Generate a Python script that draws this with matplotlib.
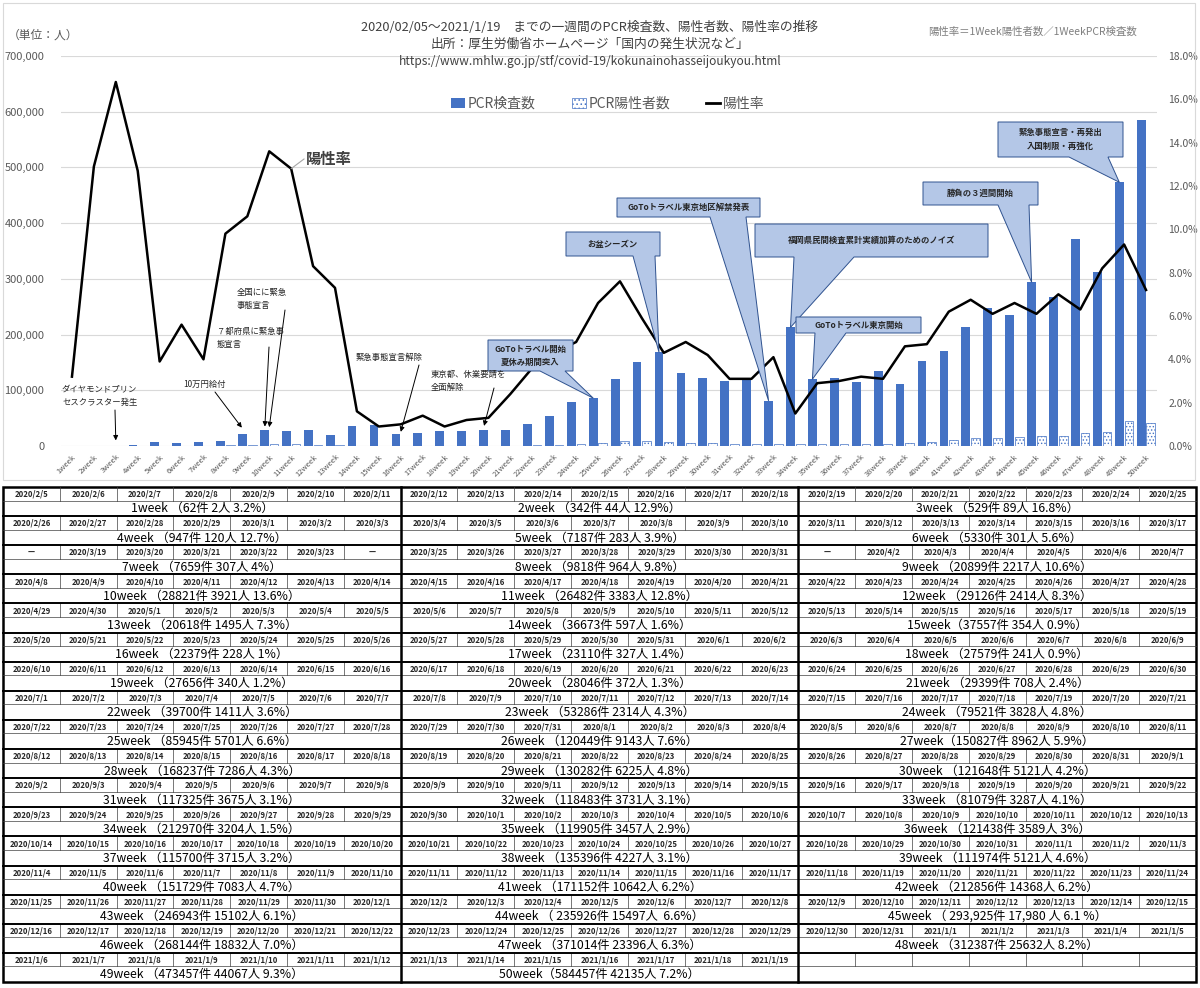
import datetime
import matplotlib
matplotlib.use('Agg')
import matplotlib.pyplot as plt
from matplotlib.patches import Polygon, Patch, Rectangle
from matplotlib.lines import Line2D

plt.rcParams['font.family'] = ['Noto Sans CJK JP', 'DejaVu Sans']
plt.rcParams['hatch.linewidth'] = 0.6

W, H = 1200, 988

weeks = [f'{i}week' for i in range(1, 51)]

tests = [62, 342, 529, 947, 7187, 5330, 7659, 9818, 20899, 28821,
         26482, 29126, 20618, 36673, 37557, 22379, 23110, 27579, 27656, 28046,
         29399, 39700, 53286, 79521, 85945, 120449, 150827, 168237, 130282, 121648,
         117325, 118483, 81079, 212970, 119905, 121438, 115700, 135396, 111974, 151729,
         171152, 212856, 246943, 235926, 293925, 268144, 371014, 312387, 473457, 584457]

positives = [2, 44, 89, 120, 283, 301, 307, 964, 2217, 3921,
             3383, 2414, 1495, 597, 354, 228, 327, 241, 340, 372,
             708, 1411, 2314, 3828, 5701, 9143, 8962, 7286, 6225, 5121,
             3675, 3731, 3287, 3204, 3457, 3589, 3715, 4227, 5121, 7083,
             10642, 14368, 15102, 15497, 17980, 18832, 23396, 25632, 44067, 42135]

# positivity rate (%) as drawn by the line
rate = [3.2, 12.9, 16.8, 12.7, 3.9, 5.6, 4.0, 9.8, 10.6, 13.6,
        12.8, 8.3, 7.3, 1.6, 0.9, 1.0, 1.4, 0.9, 1.2, 1.3,
        2.4, 3.6, 4.3, 4.8, 6.6, 7.6, 5.9, 4.3, 4.8, 4.2,
        3.1, 3.1, 4.1, 1.5, 2.9, 3.0, 3.2, 3.1, 4.6, 4.7,
        6.2, 6.75, 6.1, 6.6, 6.1, 7.0, 6.3, 8.2, 9.3, 7.2]

# rate text as written in the table
rate_label = ['3.2%', '12.9%', '16.8%', '12.7%', '3.9%', '5.6%', '4%', '9.8%', '10.6%', '13.6%',
              '12.8%', '8.3%', '7.3%', '1.6%', '0.9%', '1%', '1.4%', '0.9%', '1.2%', '1.3%',
              '2.4%', '3.6%', '4.3%', '4.8%', '6.6%', '7.6%', '5.9%', '4.3%', '4.8%', '4.2%',
              '3.1%', '3.1%', '4.1%', '1.5%', '2.9%', '3%', '3.2%', '3.1%', '4.6%', '4.7%',
              '6.2%', '6.2%', '6.1%', '6.6%', '6.1%', '7.0%', '6.3%', '8.2%', '9.3%', '7.2%']

start_day = datetime.date(2020, 2, 5)
missing_days = ['2020/3/18', '2020/3/24', '2020/4/1']

dates = []
for i in range(350):
    d = start_day + datetime.timedelta(days=i)
    s = f'{d.year}/{d.month}/{d.day}'
    dates.append('—' if s in missing_days else s)

summary = [f'{w} （{t}件 {p}人 {r}）' for w, t, p, r in zip(weeks, tests, positives, rate_label)]
for i in (14, 26, 49):
    summary[i] = summary[i].replace(' （', '（')
summary[43] = '44week （ 235926件 15497人  6.6%）'
summary[44] = '45week （ 293,925件 17,980 人 6.1 %）'

BLUE = '#4472C4'
GREY = '#595959'

fig = plt.figure(figsize=(W / 100, H / 100), dpi=100)

# ---- chart
ax = fig.add_axes([61 / W, 1 - 446 / H, 1096 / W, 390 / H])
x = list(range(50))
ax.bar([i - 0.22 for i in x], tests, width=0.4, color=BLUE, zorder=2)
ax.bar([i + 0.22 for i in x], positives, width=0.4, facecolor='white',
       edgecolor=BLUE, hatch='.....', linewidth=0.5, zorder=2)
ax.set_xlim(-0.5, 49.5)
ax.set_ylim(0, 700000)
ax.set_yticks(range(0, 700001, 100000))
ax.set_yticklabels([f'{v:,}' for v in range(0, 700001, 100000)])
ax.grid(axis='y', color='#d9d9d9', linewidth=0.8)
ax.set_axisbelow(True)
for s in ax.spines.values():
    s.set_visible(False)
ax.tick_params(axis='y', length=0, labelsize=8, labelcolor=GREY, pad=12)
ax.set_xticks(x)
ax.set_xticklabels(weeks, rotation=45, ha='right', va='top', rotation_mode='anchor',
                   fontsize=5.5, color=GREY)
ax.tick_params(axis='x', length=0, pad=5)

ax2 = ax.twinx()
ax2.plot(x, rate, color='black', linewidth=1.8, zorder=3)
ax2.set_ylim(0, 18)
ax2.set_yticks(range(0, 19, 2))
ax2.set_yticklabels([f'{v:.1f}%' for v in range(0, 19, 2)])
ax2.tick_params(axis='y', length=0, labelsize=7.5, labelcolor=GREY, pad=8)
for s in ax2.spines.values():
    s.set_visible(False)

handles = [Patch(facecolor=BLUE),
           Patch(facecolor='white', edgecolor=BLUE, hatch='....', linewidth=0.5),
           Line2D([], [], color='black', linewidth=2)]
leg = ax.legend(handles, ['PCR検査数', 'PCR陽性者数', '陽性率'], loc='center',
                bbox_to_anchor=(608 / W, 1 - 104 / H), bbox_transform=fig.transFigure,
                ncol=3, frameon=False, fontsize=10, columnspacing=2.6,
                handlelength=1.0, handletextpad=0.2)
for t in leg.get_texts():
    t.set_color(GREY)

# ---- overlay in pixel coordinates
ov = fig.add_axes([0, 0, 1, 1], zorder=5)
ov.set_xlim(0, W)
ov.set_ylim(H, 0)
ov.axis('off')


def data_px(axis, xv, yv):
    dx, dy = axis.transData.transform((xv, yv))
    return dx, H - dy


ov.add_patch(Rectangle((3, 3), 1192, 477, fill=False, ec='#d9d9d9', lw=0.8))

ov.text(590, 27, '2020/02/05～2021/1/19　までの一週間のPCR検査数、陽性者数、陽性率の推移',
        ha='center', va='center', fontsize=9.2, color='#404040')
ov.text(590, 44, '出所：厚生労働省ホームページ「国内の発生状況など」',
        ha='center', va='center', fontsize=9.2, color='#404040')
ov.text(590, 61, 'https://www.mhlw.go.jp/stf/covid-19/kokunainohasseijoukyou.html',
        ha='center', va='center', fontsize=8.6, color='#404040')
ov.text(8, 35, '（単位：人）', va='center', fontsize=8.5, color=GREY)
ov.text(1137, 32, '陽性率＝1Week陽性者数／1WeekPCR検査数', ha='right', va='center',
        fontsize=7.5, color='#7f7f7f')

# label on the rate line
lx, ly = data_px(ax2, 10, rate[10])
ov.plot([lx, 304], [ly, 159], color='#a6a6a6', lw=0.8)
ov.text(306, 159, '陽性率', va='center', fontsize=11, fontweight='bold', color='#404040')

# arrow notes
arrow_kw = dict(arrowstyle='-|>', color='black', lw=0.7, mutation_scale=7, shrinkA=0, shrinkB=0)
notes = [
    ('ダイヤモンドプリン\nセスクラスター発生', (62, 385), (115, 410), (2, 10000)),
    ('10万円給付', (183, 380), (215, 392), (7.75, tests[8] + 12000)),
    ('全国にに緊急\n事態宣言', (237, 288), (285, 310), (9.0, tests[9] + 5000)),
    ('７都府県に緊急事\n態宣言', (217, 327), (269, 347), (8.8, tests[9] + 6000)),
    ('緊急事態宣言解除', (356, 353), (419, 365), (15, tests[15] + 3000)),
    ('東京都、休業要請を\n全面解除', (431, 370), (494, 388), (18.8, tests[19] + 8000)),
]
for txt, (tx, ty), start, (wx, wy) in notes:
    ov.text(tx, ty, txt, ha='left', va='top', fontsize=6, color='#262626', linespacing=1.5)
    ov.annotate('', xy=data_px(ax, wx, wy), xytext=start, arrowprops=arrow_kw)


def callout(x0, y0, x1, y1, b0, b1, week, text):
    tx, ty = data_px(ax, week - 1 - 0.22, tests[week - 1])
    pts = [(x0, y0), (x1, y0), (x1, y1), (b1, y1), (tx, ty), (b0, y1), (x0, y1)]
    ov.add_patch(Polygon(pts, closed=True, fc='#B4C7E7', ec='#2F528F', lw=0.7))
    ov.text((x0 + x1) / 2, (y0 + y1) / 2, text, ha='center', va='center', fontsize=6,
            fontweight='bold', color='#262626', linespacing=1.6)


callout(488, 340, 573, 371, 540, 565, 25, 'GoToトラベル開始\n夏休み期間突入')
callout(566, 232, 660, 256, 633, 655, 28, 'お盆シーズン')
callout(617, 198, 760, 217, 710, 746, 33, 'GoToトラベル東京地区解禁発表')
callout(755, 224, 988, 257, 794, 854, 34, '福岡県民間検査累計実績加算のためのノイズ')
callout(796, 317, 921, 333, 815, 846, 35, 'GoToトラベル東京開始')
callout(923, 182, 1038, 205, 998, 1029, 45, '勝負の３週間開始')
callout(998, 122, 1123, 157, 1069, 1108, 49, '緊急事態宣言・再発出\n入国制限・再強化')

# ---- table of weeks
T_LEFT, T_RIGHT, T_TOP, T_BOTTOM = 3, 1196, 487, 982
n_rows = 17
blk = (T_BOTTOM - T_TOP) / n_rows
col_w = (T_RIGHT - T_LEFT) / 3
cell_w = col_w / 7
date_h = 13.5
thin = dict(color='#404040', lw=0.5)
thick = dict(color='black', lw=1.4)

for r in range(n_rows):
    ytop = T_TOP + r * blk
    ymid = ytop + date_h
    for c in range(3):
        wi = 3 * r + c
        xl = T_LEFT + c * col_w
        for k in range(7):
            xk = xl + k * cell_w
            if k > 0:
                ov.plot([xk, xk], [ytop, ymid], **thin)
            if wi < 50:
                ov.text(xk + cell_w / 2, ytop + date_h / 2 + 0.5, dates[wi * 7 + k],
                        ha='center', va='center', fontsize=5.6, fontweight='bold',
                        color='#262626')
        if wi < 50:
            ov.text(xl + col_w / 2, ymid + (blk - date_h) / 2 + 0.5, summary[wi],
                    ha='center', va='center', fontsize=8.8, color='black')
    ov.plot([T_LEFT, T_RIGHT], [ymid, ymid], **thin)
    if r > 0:
        ov.plot([T_LEFT, T_RIGHT], [ytop, ytop], **thick)

for c in (1, 2):
    xc = T_LEFT + c * col_w
    ov.plot([xc, xc], [T_TOP, T_BOTTOM], color='black', lw=1.8)
ov.add_patch(Rectangle((T_LEFT, T_TOP), T_RIGHT - T_LEFT, T_BOTTOM - T_TOP,
                       fill=False, ec='black', lw=1.8))

fig.savefig('out.png', dpi=100, facecolor='white')
